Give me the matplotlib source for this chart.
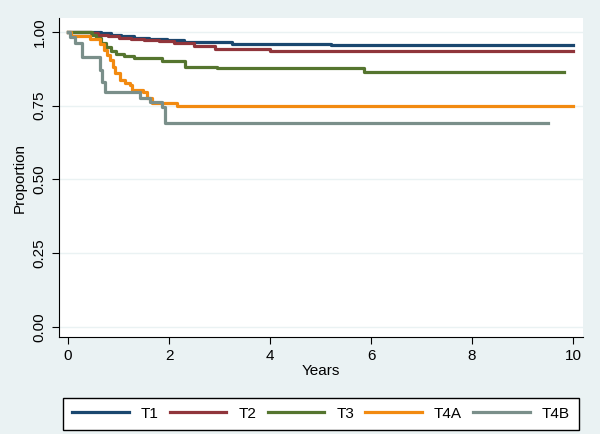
import matplotlib.pyplot as plt
import numpy as np

plt.rcParams['font.family'] = ['Liberation Sans', 'DejaVu Sans']

groups = ['T1', 'T2', 'T3', 'T4A', 'T4B']
colors = ['#1a476f', '#90353b', '#55752f', '#f28a10', '#7a8f8a']

# Kaplan-Meier style step data (years, proportion)
t1_time = [0, 0.65, 0.85, 1.05, 1.3, 1.6, 1.95, 2.3, 3.25, 5.2, 10.0]
t1_surv = [1.0, 0.995, 0.99, 0.985, 0.98, 0.976, 0.971, 0.966, 0.959, 0.955, 0.955]

t2_time = [0, 0.45, 0.6, 0.8, 1.0, 1.25, 1.5, 1.8, 2.1, 2.5, 2.9, 4.0, 10.0]
t2_surv = [1.0, 0.995, 0.99, 0.985, 0.98, 0.977, 0.973, 0.968, 0.962, 0.953, 0.942, 0.936, 0.936]

t3_time = [0, 0.47, 0.55, 0.65, 0.75, 0.85, 0.95, 1.1, 1.3, 1.86, 2.32, 2.95, 5.85, 9.82]
t3_surv = [1.0, 0.99, 0.978, 0.962, 0.948, 0.935, 0.925, 0.918, 0.911, 0.9, 0.882, 0.876, 0.864, 0.864]

t4a_time = [0, 0.05, 0.44, 0.63, 0.72, 0.78, 0.83, 0.88, 0.93, 1.03, 1.13, 1.23, 1.26, 1.49, 1.56, 1.66, 2.16, 10.0]
t4a_surv = [1.0, 0.985, 0.975, 0.96, 0.94, 0.92, 0.905, 0.88, 0.861, 0.837, 0.828, 0.82, 0.803, 0.797, 0.776, 0.759, 0.749, 0.749]

t4b_time = [0, 0.04, 0.14, 0.28, 0.63, 0.67, 0.73, 1.43, 1.62, 1.86, 1.92, 9.5]
t4b_surv = [1.0, 0.983, 0.963, 0.915, 0.871, 0.83, 0.797, 0.776, 0.763, 0.746, 0.69, 0.69]

times = [t1_time, t2_time, t3_time, t4a_time, t4b_time]
survs = [t1_surv, t2_surv, t3_surv, t4a_surv, t4b_surv]

bg = '#eaf2f3'
fig = plt.figure(figsize=(6, 4.34), dpi=100, facecolor=bg)
ax = fig.add_axes([0.0975, 0.2235, 0.8745, 0.735])
ax.set_facecolor('white')

for t, s, c, g in zip(times, survs, colors, groups):
    ax.step(t, s, where='post', color=c, linewidth=2.3, label=g)

ax.set_xlim(-0.19, 10.2)
ax.set_ylim(-0.034, 1.047)
ax.set_xticks([0, 2, 4, 6, 8, 10])
ax.set_yticks([0, 0.25, 0.5, 0.75, 1.0])
ax.set_yticklabels(['0.00', '0.25', '0.50', '0.75', '1.00'], rotation=90, va='center')
ax.grid(axis='y', color=bg, linewidth=1)
ax.set_axisbelow(True)

for side in ['top', 'right']:
    ax.spines[side].set_visible(False)
ax.spines['left'].set_color('black')
ax.spines['bottom'].set_color('black')
ax.tick_params(axis='both', labelsize=11, length=5, color='black', direction='out')

ax.set_xlabel('Years', fontsize=11, labelpad=1)
ax.set_ylabel('Proportion', fontsize=11, labelpad=4)

fig.legend(loc='lower left', bbox_to_anchor=(63 / 600, 4 / 434, 516 / 600, 32 / 434),
           mode='expand', ncol=5, fontsize=11, frameon=True, fancybox=False,
           edgecolor='black', framealpha=1, handlelength=3.7, handletextpad=0.8,
           borderpad=0.6, borderaxespad=0)

plt.savefig('out.png', dpi=100, facecolor=bg)
plt.close()
